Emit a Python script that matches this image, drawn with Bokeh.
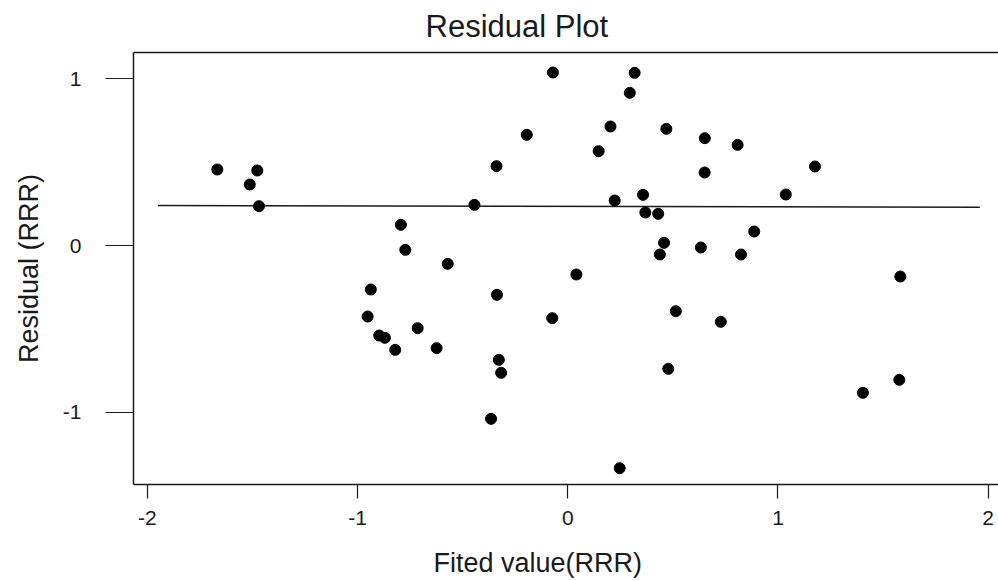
from bokeh.plotting import figure
from bokeh.models import Range1d, FixedTicker, Title, LinearAxis, PrintfTickFormatter
from bokeh.embed import file_html
from bokeh.resources import INLINE

# fitted values and residuals
fitted = [-1.667, -1.477, -1.513, -1.469, -0.794, -0.773, -0.571, -0.071, 0.318, 0.295,
          0.203, 0.469, -0.195, 0.652, 0.808, 0.147, -0.339, 0.651, 0.358, -0.444,
          0.223, 0.369, 0.430, 0.887, 0.458, 0.633, 0.438, 0.824, 1.176, 1.037,
          -0.937, -0.952, -0.897, -0.870, -0.714, -0.821, -0.624, 0.041, -0.337, -0.074,
          -0.328, -0.317, -0.365, 0.247, 0.514, 0.728, 0.478, 1.582, 1.577, 1.404]
residual = [0.456, 0.450, 0.366, 0.236, 0.124, -0.026, -0.110, 1.038, 1.036, 0.916,
            0.714, 0.700, 0.664, 0.644, 0.604, 0.566, 0.476, 0.438, 0.304, 0.244,
            0.270, 0.198, 0.190, 0.084, 0.016, -0.012, -0.054, -0.054, 0.474, 0.306,
            -0.264, -0.426, -0.540, -0.554, -0.496, -0.626, -0.616, -0.174, -0.296, -0.436,
            -0.686, -0.764, -1.040, -1.336, -0.394, -0.458, -0.740, -0.186, -0.806, -0.884]

# reference (mean) line
ref_x = [-1.95, 1.96]
ref_y = [0.24, 0.23]

x_ticks = [-2, -1, 0, 1, 2]
y_ticks = [-1, 0, 1]

FONT = "Liberation Sans"
INK = "#1a1a1a"

p = figure(width=998, height=581, output_backend="svg", toolbar_location=None,
           x_range=Range1d(-2.066, 2.049), y_range=Range1d(-1.434, 1.158),
           min_border_left=133, min_border_top=52, min_border_bottom=97, min_border_right=0,
           title="Residual Plot")

p.title.text_font = FONT
p.title.text_font_size = "31px"
p.title.text_font_style = "normal"
p.title.text_color = INK
p.title.align = "left"
p.title.offset = 292
p.title.vertical_align = "top"
p.title.standoff = 13

p.grid.visible = False
p.outline_line_color = None
p.background_fill_color = "white"
p.border_fill_color = "white"

for ax in (p.xaxis[0], p.yaxis[0]):
    ax.axis_line_color = INK
    ax.axis_line_width = 1.5
    ax.minor_tick_line_color = None
    ax.major_tick_in = 0
    ax.major_tick_line_color = INK
    ax.major_tick_line_width = 1.2
    ax.major_label_text_font = FONT
    ax.major_label_text_font_size = "21px"
    ax.major_label_text_color = INK
    ax.axis_label_text_font = FONT
    ax.axis_label_text_font_size = "27px"
    ax.axis_label_text_font_style = "normal"
    ax.axis_label_text_color = INK
    ax.formatter = PrintfTickFormatter(format="%d")

p.xaxis.ticker = FixedTicker(ticks=x_ticks)
p.yaxis.ticker = FixedTicker(ticks=y_ticks)
p.xaxis.major_tick_out = 14
p.yaxis.major_tick_out = 28
p.xaxis.major_label_standoff = 12
p.yaxis.major_label_standoff = 24
p.yaxis.axis_label = "Residual (RRR)"
p.yaxis.axis_label_standoff = 16

# top frame line
top = LinearAxis(ticker=FixedTicker(ticks=[]), axis_line_color=INK, axis_line_width=1.5,
                 major_tick_line_color=None, minor_tick_line_color=None,
                 major_label_text_font_size="0px")
p.add_layout(top, "above")

# x axis title, shifted left and down like the reference
xt = Title(text="Fited value(RRR)", align="left", offset=300, standoff=0,
           vertical_align="top", padding=dict(top=20, right=0, bottom=0, left=0),
           text_font=FONT, text_font_size="27px", text_font_style="normal",
           text_color=INK)
p.add_layout(xt, "below")

p.line(ref_x, ref_y, line_color=INK, line_width=1.5)
p.scatter(fitted, residual, size=11, fill_color="black", line_color="black")

open("out.html", "w").write(file_html(p, INLINE))
